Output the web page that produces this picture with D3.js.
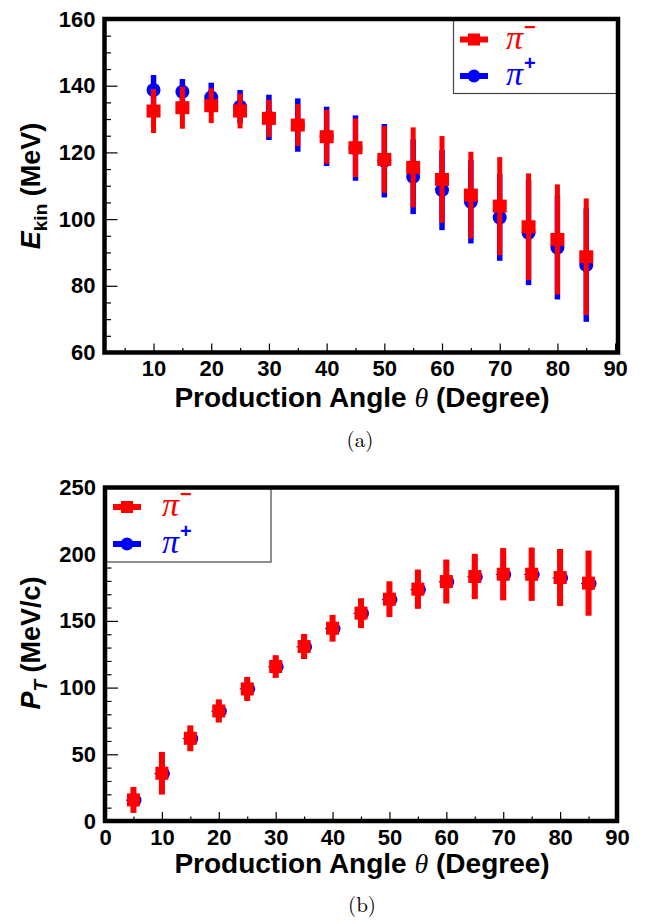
<!DOCTYPE html>
<html>
<head>
<meta charset="utf-8">
<script src="https://cdn.jsdelivr.net/npm/d3@7"></script>
<style>
  html, body { margin: 0; padding: 0; background: #fff; }
  svg { display: block; }
  .tick text { font-family: "Liberation Sans", Arial, sans-serif; font-weight: bold; font-size: 22px; fill: #000; }
</style>
</head>
<body>
<svg id="chart" width="650" height="924"></svg>
<script>
// ---------------- data ----------------
const anglesA = [10, 15, 20, 25, 30, 35, 40, 45, 50, 55, 60, 65, 70, 75, 80, 85];
const ekinPiMinus    = [132.4, 133.4, 134.0, 132.4, 130.2, 128.2, 124.7, 121.4, 117.9, 115.5, 111.9, 107.2, 103.9, 97.7, 93.9, 88.7];
const ekinPiMinusErr = [6.6, 6.3, 5.2, 5.2, 5.6, 6.3, 8.1, 8.8, 10.0, 12.0, 13.0, 13.0, 14.7, 16.0, 16.5, 17.5];
const ekinPiPlus     = [138.7, 138.2, 136.5, 133.7, 130.5, 128.2, 124.8, 121.3, 117.5, 112.7, 108.7, 105.2, 100.5, 95.9, 91.5, 86.2];
const ekinPiPlusErr  = [4.5, 3.8, 4.4, 5.0, 6.8, 8.0, 8.9, 9.8, 11.0, 11.2, 12.0, 12.5, 13.0, 15.7, 15.6, 17.0];

const anglesB = [5, 10, 15, 20, 25, 30, 35, 40, 45, 50, 55, 60, 65, 70, 75, 80, 85];
const ptPiMinus    = [15.8, 35.8, 62.0, 82.5, 99.0, 115.8, 130.8, 144.5, 155.8, 166.3, 173.8, 179.5, 183.3, 185.0, 185.0, 182.5, 178.3];
const ptPiMinusErr = [9.7, 16.0, 9.7, 8.7, 9.0, 8.5, 9.4, 10.0, 11.2, 13.4, 14.7, 16.5, 17.0, 19.6, 20.0, 21.4, 24.4];
const ptPiPlus     = [15.6, 35.5, 61.8, 82.3, 99.0, 115.6, 130.6, 144.3, 155.6, 166.0, 173.5, 179.3, 183.0, 184.8, 184.8, 182.3, 178.0];
const ptPiPlusErr  = [9.0, 15.0, 9.0, 8.0, 8.5, 8.0, 9.0, 9.5, 10.5, 12.5, 14.0, 15.5, 16.0, 18.5, 19.0, 20.0, 23.0];

const xTicksA = [10, 20, 30, 40, 50, 60, 70, 80, 90];
const yTicksA = [60, 80, 100, 120, 140, 160];
const xTicksB = [0, 10, 20, 30, 40, 50, 60, 70, 80, 90];
const yTicksB = [0, 50, 100, 150, 200, 250];

const RED = "#ff0000", BLUE = "#0000ff";
const svg = d3.select("#chart");

function drawPanel(cfg) {
  const g = svg.append("g");
  const x = d3.scaleLinear().domain(cfg.xDomain).range(cfg.xRange);
  const y = d3.scaleLinear().domain(cfg.yDomain).range(cfg.yRange);

  // minor ticks
  g.append("g").attr("transform", `translate(0,${cfg.yRange[0]})`)
    .call(d3.axisBottom(x).tickValues(cfg.xMinor).tickSize(-4.5).tickFormat(""))
    .call(a => a.select(".domain").remove())
    .call(a => a.selectAll("line").attr("stroke", "#000").attr("stroke-width", 1.2));
  g.append("g").attr("transform", `translate(${cfg.xRange[0]},0)`)
    .call(d3.axisLeft(y).tickValues(cfg.yMinor).tickSize(-6.5).tickFormat(""))
    .call(a => a.select(".domain").remove())
    .call(a => a.selectAll("line").attr("stroke", "#000").attr("stroke-width", 1.2));
  // major ticks
  g.append("g").attr("transform", `translate(0,${cfg.yRange[0]})`)
    .call(d3.axisBottom(x).tickValues(cfg.xTicks).tickSize(-9).tickPadding(8).tickFormat(d3.format("d")))
    .call(a => a.select(".domain").remove())
    .call(a => a.selectAll("line").attr("stroke", "#000").attr("stroke-width", 1.2));
  g.append("g").attr("transform", `translate(${cfg.xRange[0]},0)`)
    .call(d3.axisLeft(y).tickValues(cfg.yTicks).tickSize(-13).tickPadding(9).tickFormat(d3.format("d")))
    .call(a => a.select(".domain").remove())
    .call(a => a.selectAll("line").attr("stroke", "#000").attr("stroke-width", 1.2));

  // data
  const mk = cfg.markers;
  const blue = g.append("g");
  cfg.angles.forEach((a, i) => {
    const cx = x(a), cy = y(cfg.plus[i]);
    blue.append("rect").attr("x", cx - mk.bBarW / 2).attr("width", mk.bBarW)
      .attr("y", y(cfg.plus[i] + cfg.plusErr[i])).attr("height", y(cfg.plus[i] - cfg.plusErr[i]) - y(cfg.plus[i] + cfg.plusErr[i]))
      .attr("fill", BLUE);
    if (mk.bHLine) blue.append("line").attr("x1", cx - mk.bHLine).attr("x2", cx + mk.bHLine)
      .attr("y1", cy).attr("y2", cy).attr("stroke", BLUE).attr("stroke-width", 1.2);
    blue.append("circle").attr("cx", cx + (mk.bShift || 0)).attr("cy", cy).attr("r", mk.bR).attr("fill", BLUE);
  });
  const red = g.append("g");
  cfg.angles.forEach((a, i) => {
    const cx = x(a), cy = y(cfg.minus[i]);
    red.append("rect").attr("x", cx - mk.rBarW / 2).attr("width", mk.rBarW)
      .attr("y", y(cfg.minus[i] + cfg.minusErr[i])).attr("height", y(cfg.minus[i] - cfg.minusErr[i]) - y(cfg.minus[i] + cfg.minusErr[i]))
      .attr("fill", RED);
    red.append("rect").attr("x", cx - mk.rW / 2).attr("y", cy - mk.rH / 2)
      .attr("width", mk.rW).attr("height", mk.rH).attr("fill", RED);
  });

  // legend
  const L = cfg.legend;
  g.append("rect").attr("x", L.x0).attr("y", L.y0).attr("width", L.x1 - L.x0).attr("height", L.y1 - L.y0)
    .attr("fill", "#fff").attr("stroke", "#444").attr("stroke-width", 1.2);
  const entries = [
    { color: RED, sign: "\u2212", shape: "square", dy: 0 },
    { color: BLUE, sign: "+", shape: "circle", dy: L.gap }
  ];
  entries.forEach(e => {
    const cy = L.cy + e.dy;
    g.append("rect").attr("x", L.mx - 14).attr("y", cy - 3).attr("width", 28).attr("height", 6).attr("fill", e.color);
    if (e.shape === "square") g.append("rect").attr("x", L.mx - 6).attr("y", cy - 6).attr("width", 12).attr("height", 12).attr("fill", e.color);
    else g.append("circle").attr("cx", L.mx).attr("cy", cy).attr("r", 6.5).attr("fill", e.color);
    const t = g.append("text").attr("x", L.tx).attr("y", cy + 9).attr("fill", e.color);
    t.append("tspan").text("\u03C0").attr("font-family", "'Liberation Serif', 'Times New Roman', serif")
      .attr("font-style", "italic").attr("font-size", 34);
    t.append("tspan").text(e.sign).attr("font-family", "'Liberation Sans', Arial, sans-serif")
      .attr("font-weight", "bold").attr("font-size", 20).attr("dy", -15).attr("dx", 1);
  });

  // frame
  g.append("rect").attr("x", cfg.xRange[0]).attr("y", cfg.yRange[1])
    .attr("width", cfg.xRange[1] - cfg.xRange[0]).attr("height", cfg.yRange[0] - cfg.yRange[1])
    .attr("fill", "none").attr("stroke", "#000").attr("stroke-width", 4.5);

  // x title
  const xt = g.append("text").attr("x", cfg.xTitlePos[0]).attr("y", cfg.xTitlePos[1])
    .attr("text-anchor", "middle").attr("font-family", "'Liberation Sans', Arial, sans-serif")
    .attr("font-weight", "bold").attr("font-size", 28);
  xt.append("tspan").text("Production Angle ");
  xt.append("tspan").text("\u03B8").attr("font-family", "'Liberation Serif', serif").attr("font-style", "italic").attr("font-weight", "normal");
  xt.append("tspan").text(" (Degree)");

  // y title
  const yt = g.append("text").attr("transform", `translate(${cfg.yTitlePos[0]},${cfg.yTitlePos[1]}) rotate(-90)`)
    .attr("text-anchor", "middle").attr("font-family", "'Liberation Sans', Arial, sans-serif")
    .attr("font-weight", "bold").attr("font-size", 27);
  yt.append("tspan").text(cfg.yTitle[0]).attr("font-style", "italic");
  yt.append("tspan").text(cfg.yTitle[1]).attr("font-size", 19).attr("dy", 7).attr("font-style", cfg.yTitle[3] ? "italic" : "normal");
  yt.append("tspan").text(cfg.yTitle[2]).attr("dy", -7);

  // caption
  svg.append("text").attr("x", cfg.capPos[0]).attr("y", cfg.capPos[1]).attr("text-anchor", "middle")
    .attr("font-family", "'Latin Modern Roman', 'Liberation Serif', 'Times New Roman', serif")
    .attr("font-size", 21).text(cfg.caption);
}

drawPanel({
  xDomain: [1.5, 90.5], xRange: [104.5, 618],
  yDomain: [60, 160], yRange: [352.5, 19],
  xTicks: xTicksA, xMinor: d3.range(5, 90, 10),
  yTicks: yTicksA, yMinor: d3.range(65, 160, 5).filter(v => v % 20 !== 0),
  angles: anglesA, minus: ekinPiMinus, minusErr: ekinPiMinusErr, plus: ekinPiPlus, plusErr: ekinPiPlusErr,
  markers: { rBarW: 5, rW: 14, rH: 13, bBarW: 5.5, bR: 7 },
  legend: { x0: 453.5, x1: 617, y0: 19, y1: 93.5, cy: 39.5, gap: 36.5, mx: 474, tx: 506 },
  xTitlePos: [362, 407], yTitlePos: [40, 186], yTitle: ["E", "kin", " (MeV)", false],
  capPos: [360, 447], caption: "(a)"
});

drawPanel({
  xDomain: [0, 90], xRange: [105, 617],
  yDomain: [0, 250], yRange: [821, 487.5],
  xTicks: xTicksB, xMinor: d3.range(5, 90, 10),
  yTicks: yTicksB, yMinor: d3.range(10, 250, 10).filter(v => v % 50 !== 0),
  angles: anglesB, minus: ptPiMinus, minusErr: ptPiMinusErr, plus: ptPiPlus, plusErr: ptPiPlusErr,
  markers: { rBarW: 6, rW: 13, rH: 13, bBarW: 5, bR: 6.5, bShift: 1.5, bHLine: 7.5 },
  legend: { x0: 104.5, x1: 271, y0: 487.5, y1: 562, cy: 507, gap: 37, mx: 127, tx: 162 },
  xTitlePos: [362, 873], yTitlePos: [40, 643], yTitle: ["P", "T", " (MeV/c)", true],
  capPos: [362, 912], caption: "(b)"
});
</script>
</body>
</html>
